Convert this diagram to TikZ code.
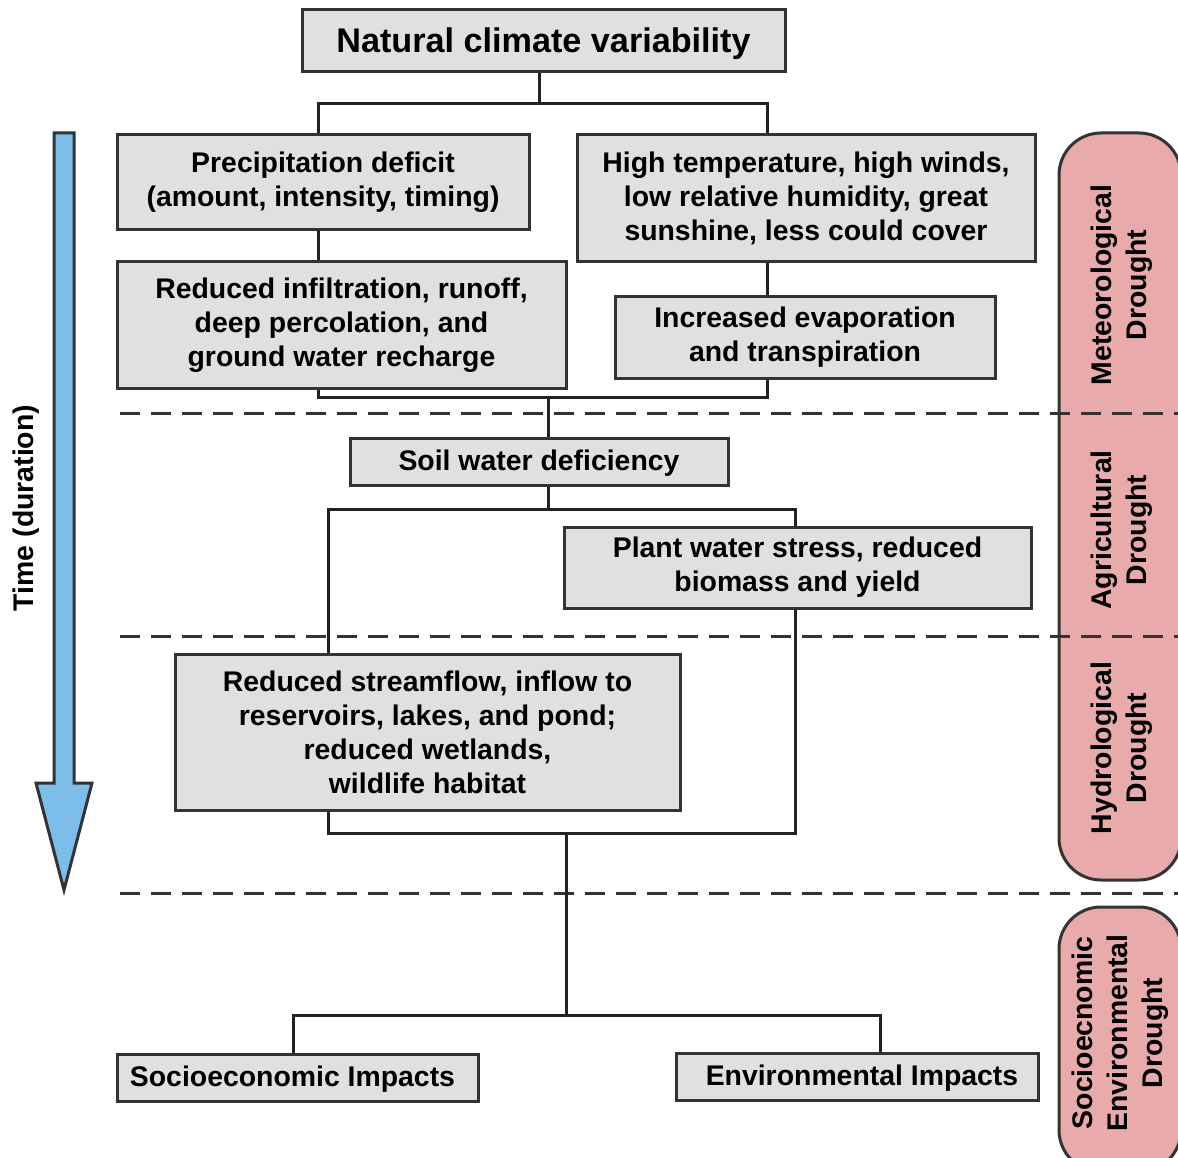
\documentclass[tikz,border=0pt]{standalone}
\usepackage{fontspec}
\setmainfont{Liberation Sans}
\begin{document}
\begin{tikzpicture}[x=1pt,y=-1pt,
  box/.style={draw=boxline, line width=3pt, fill=boxfill, inner sep=0pt, align=center,
    font=\fontsize{28.4}{34}\selectfont\bfseries},
  conn/.style={draw=connline, line width=3pt},
  sep/.style={draw=boxline, line width=3pt, dash pattern=on 20pt off 11pt},
  pinkbox/.style={draw=boxline, line width=3pt, fill=pinkfill, rounded corners=42pt},
  plabel/.style={rotate=90, align=center, font=\fontsize{28.4}{35}\selectfont\bfseries},
]
\definecolor{boxline}{HTML}{333333}
\definecolor{connline}{HTML}{222222}
\definecolor{boxfill}{HTML}{E0E0E0}
\definecolor{pinkfill}{HTML}{E8AAAA}
\definecolor{arrowfill}{HTML}{7DBDEA}
\useasboundingbox (0,0) rectangle (1178,1158);
\fill[white] (0,0) rectangle (1178,1158);

% side pink panels
\begin{scope}
\clip (0,0) rectangle (1178,1158);
\draw[pinkbox] (1059,133) rectangle (1181,880);
\draw[pinkbox] (1059,907) rectangle (1181,1172);
\end{scope}
\node[plabel] (lmet) at (1122,285) {Meteorological\\Drought};
\node[plabel] (lagr) at (1122,530) {Agricultural\\Drought};
\node[plabel] (lhyd) at (1122,748) {Hydrological\\Drought};
\node[plabel] (lsoc) at (1120,1033) {Socioecnomic\\Environmental\\Drought};

% time arrow
\draw[boxline, line width=3pt, fill=arrowfill, line join=miter]
  (54,133) -- (74,133) -- (74,783) -- (92,783) -- (64,890) -- (36,783) -- (54,783) -- cycle;
\node[rotate=90, font=\fontsize{28.4}{34}\selectfont\bfseries] (time) at (26,508) {Time (duration)};

% separators
\draw[sep] (120,413) -- (1178,413);
\draw[sep] (120,636) -- (1178,636);
\draw[sep] (120,893) -- (1178,893);

% boxes
\node[box, minimum width=483pt, minimum height=62pt, text height=27pt, text depth=3pt, font=\fontsize{34.2}{40}\selectfont\bfseries] (title) at (543.5,41) {Natural climate variability};
\node[box, minimum width=412pt, minimum height=95pt] (precip) at (323,182.5) {Precipitation deficit\\(amount, intensity, timing)};
\node[box, minimum width=458pt, minimum height=127pt] (temp) at (806,198.5) {High temperature, high winds,\\low relative humidity, great\\sunshine, less could cover};
\node[box, minimum width=449pt, minimum height=126pt] (infil) at (341.5,325) {Reduced infiltration, runoff,\\deep percolation, and\\ground water recharge};
\node[box, minimum width=380pt, minimum height=81pt] (evap) at (805,337.5) {Increased evaporation\\and transpiration};
\node[box, minimum width=378pt, minimum height=47pt, text height=22pt, text depth=4pt] (soil) at (539,461.5) {Soil water deficiency};
\node[box, minimum width=467pt, minimum height=81pt] (plant) at (797.5,567.5) {Plant water stress, reduced\\biomass and yield};
\node[box, minimum width=505pt, minimum height=156pt] (stream) at (427.5,732) {Reduced streamflow, inflow to\\reservoirs, lakes, and pond;\\reduced wetlands,\\wildlife habitat};
\node[box, minimum width=361pt, minimum height=47pt, text height=22pt, text depth=4pt] (socio) at (297.5,1077.5) {\hspace*{-10pt}Socioeconomic Impacts};
\node[box, minimum width=362pt, minimum height=47pt, text height=22pt, text depth=4pt] (env) at (857,1076.5) {\hspace*{10pt}Environmental Impacts};

% junction coordinates
\coordinate (j1) at (539,104);
\coordinate (j1l) at (318,104);
\coordinate (j1r) at (767,104);
\coordinate (j2) at (548,397);
\coordinate (j2l) at (318,397);
\coordinate (j2r) at (767,397);
\coordinate (j3) at (548,509);
\coordinate (j3l) at (328,509);
\coordinate (j3r) at (795,509);
\coordinate (j4) at (566,833);
\coordinate (j4l) at (328,833);
\coordinate (j4r) at (795,833);
\coordinate (j5) at (566,1015);
\coordinate (j5l) at (293,1015);
\coordinate (j5r) at (880,1015);

% connectors
\draw[conn] (j1 |- title.south) -- (j1);
\draw[conn] (j1l |- precip.north) -- (j1l) -- (j1r) -- (j1r |- temp.north);
\draw[conn] (j1l |- precip.south) -- (j1l |- infil.north);
\draw[conn] (j1r |- temp.south) -- (j1r |- evap.north);
\draw[conn] (j2l |- infil.south) -- (j2l) -- (j2r) -- (j2r |- evap.south);
\draw[conn] (j2) -- (j2 |- soil.north);
\draw[conn] (j3 |- soil.south) -- (j3);
\draw[conn] (j3l |- stream.north) -- (j3l) -- (j3r) -- (j3r |- plant.north);
\draw[conn] (j4r |- plant.south) -- (j4r) -- (j4l) -- (j4l |- stream.south);
\draw[conn] (j4) -- (j5);
\draw[conn] (j5l |- socio.north) -- (j5l) -- (j5r) -- (j5r |- env.north);
\end{tikzpicture}
\end{document}
